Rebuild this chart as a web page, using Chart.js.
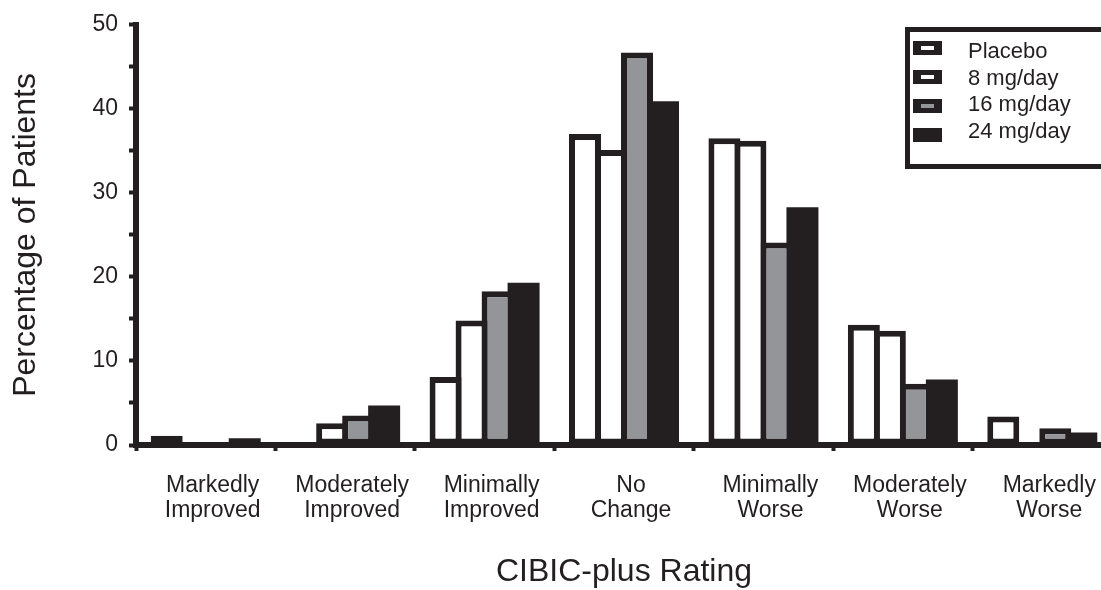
<!DOCTYPE html>
<html>
<head>
<meta charset="utf-8">
<script src="https://cdn.jsdelivr.net/npm/chart.js@4.4.1/dist/chart.umd.min.js"></script>
<style>
  html, body { margin: 0; padding: 0; background: #fff; overflow: hidden; }
  #wrap { width: 1125px; height: 590px; }
</style>
</head>
<body>
<div id="wrap"><canvas id="c" width="1125" height="590"></canvas></div>
<script>
// ---- data ----
const categories = ['Markedly Improved', 'Moderately Improved', 'Minimally Improved', 'No Change', 'Minimally Worse', 'Moderately Worse', 'Markedly Worse'];
const seriesNames = ['Placebo', '8 mg/day', '16 mg/day', '24 mg/day'];
const placebo = [1.1, 0, 8.1, 37.0, 36.5, 14.3, 3.4];
const mg8     = [0, 2.6, 14.8, 35.1, 36.2, 13.6, 0];
const mg16    = [0, 3.5, 18.3, 46.7, 24.1, 7.3, 2.0];
const mg24    = [0.8, 4.7, 19.3, 40.9, 28.3, 7.8, 1.5];
const yTickLabels = [0, 10, 20, 30, 40, 50];
const xTitle = 'CIBIC-plus Rating';
const yTitle = 'Percentage of Patients';

// ---- styles ----
const BLACK = '#231f20';
const GRAY = '#939598';
const WHITE = '#ffffff';
const fills = [WHITE, WHITE, GRAY, BLACK];
const borders = [6, 6, 6, 0];
const FONT = '"Liberation Sans", Arial, Helvetica, sans-serif';

Chart.defaults.font.family = FONT;
Chart.defaults.color = BLACK;

const seriesData = [placebo, mg8, mg16, mg24];

const legendPlugin = {
  id: 'boxLegend',
  afterDraw(chart) {
    const ctx = chart.ctx;
    ctx.save();
    ctx.lineWidth = 5;
    ctx.strokeStyle = BLACK;
    ctx.strokeRect(907.5, 29.5, 240, 137);
    ctx.font = '22px ' + FONT;
    ctx.textBaseline = 'alphabetic';
    ctx.textAlign = 'left';
    chart.data.datasets.forEach((ds, i) => {
      const sy = 41 + 29 * i;
      ctx.fillStyle = BLACK;
      ctx.fillRect(913, sy, 29, 14);
      ctx.fillStyle = ds.backgroundColor;
      ctx.fillRect(921, sy + 5, 13, 4);
      ctx.fillStyle = BLACK;
      ctx.fillText(ds.label, 968, 58 + 26.7 * i);
    });
    ctx.restore();
  }
};

new Chart(document.getElementById('c'), {
  type: 'bar',
  data: {
    labels: categories,
    datasets: seriesNames.map((name, i) => ({
      label: name,
      data: seriesData[i],
      backgroundColor: fills[i],
      borderColor: BLACK,
      borderWidth: borders[i],
      borderSkipped: false,
      categoryPercentage: 0.746,
      barPercentage: 1.23
    }))
  },
  options: {
    responsive: false,
    animation: false,
    layout: { padding: { top: 15, right: 13, bottom: 0, left: 0 } },
    plugins: {
      legend: { display: false },
      tooltip: { enabled: false }
    },
    scales: {
      x: {
        grid: { drawOnChartArea: false, drawTicks: true, tickLength: 6, tickWidth: 4, tickColor: BLACK, offset: true },
        border: { display: true, color: BLACK, width: 6, z: 1 },
        ticks: {
          color: BLACK,
          font: { size: 23, lineHeight: 1.1 },
          padding: 22,
          labelOffset: 7,
          maxRotation: 0,
          autoSkip: false,
          callback: function (v, i) { return categories[i].split(' '); }
        },
        title: { display: true, text: xTitle, color: BLACK, font: { size: 32, lineHeight: 1 }, padding: { top: 0, bottom: 2 } },
        afterFit: (s) => { s.height = 145; }
      },
      y: {
        min: 0,
        max: 50,
        grid: { drawOnChartArea: false, drawTicks: true, tickLength: 7, tickWidth: 4, tickColor: BLACK },
        border: { display: true, color: BLACK, width: 6, z: 1 },
        ticks: {
          stepSize: 5,
          color: BLACK,
          font: { size: 23 },
          padding: 11,
          callback: (v) => yTickLabels.includes(v) ? String(v) : ''
        },
        title: { display: true, text: yTitle, color: BLACK, font: { size: 32, lineHeight: 1 }, padding: { top: 10, bottom: 0 } },
        afterFit: (s) => { s.width = 136; }
      }
    }
  },
  plugins: [legendPlugin]
});
</script>
</body>
</html>
